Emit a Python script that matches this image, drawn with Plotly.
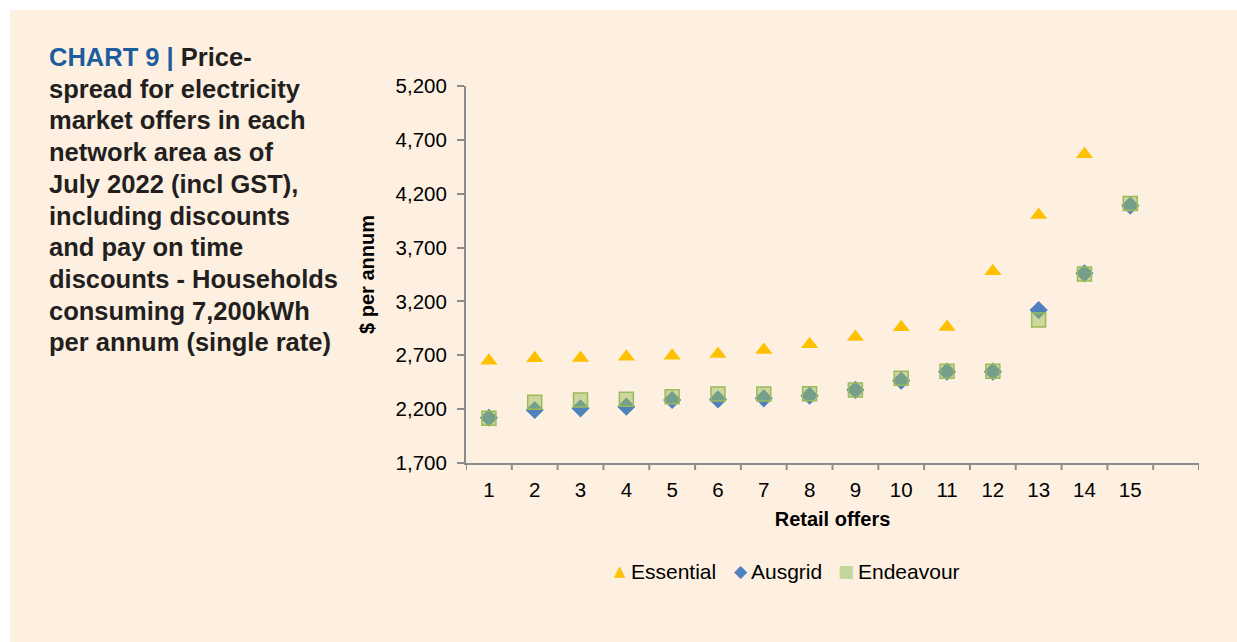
import plotly.graph_objects as go

# Retail offer ranks (16 category slots on the axis, 15 offers plotted)
offers = [str(i) for i in range(1, 16)]
axis_slots = [str(i) for i in range(1, 17)]

# Annual bill ($ per annum) for each network area
essential = [2650, 2672, 2675, 2687, 2696, 2712, 2749, 2802, 2870, 2960, 2963,
             3480, 4002, 4566, None]
ausgrid = [2120, 2192, 2208, 2223, 2285, 2290, 2300, 2325, 2378, 2464, 2548,
           2548, 3120, 3461, 4090]
endeavour = [2115, 2263, 2285, 2291, 2316, 2340, 2340, 2343, 2378, 2486, 2551,
             2551, 3028, 3455, 4110]

y_ticks = [1700, 2200, 2700, 3200, 3700, 4200, 4700, 5200]
y_tick_labels = ["1,700", "2,200", "2,700", "3,200", "3,700", "4,200", "4,700", "5,200"]

series_names = ["Essential", "Ausgrid", "Endeavour"]
series_colors = ["#FFC000", "#4F81BD", "#C3D69B"]
legend_glyphs = ["▲", "◆", "■"]

title_lines = [
    "<span style='color:#1F5C9E'>CHART 9 | </span>Price-",
    "spread for electricity",
    "market offers in each",
    "network area as of",
    "July 2022 (incl GST),",
    "including discounts",
    "and pay on time",
    "discounts - Households",
    "consuming 7,200kWh",
    "per annum (single rate)",
]

FONT = "Liberation Sans, Arial, sans-serif"
BG = "#FDF0E1"
AXIS = "#8C8C8C"

# Plot-area geometry in pixels (used to place the side text and legend)
L, R, T, B = 466, 1199, 86, 463
PW, PH = R - L, B - T


def px_x(x):
    return (x - L) / PW


def px_y(y):
    return (B - y) / PH


fig = go.Figure()
fig.add_trace(go.Scatter(
    x=offers, y=essential, mode="markers", name=series_names[0],
    marker=dict(symbol="triangle-up", size=15, color=series_colors[0],
                line=dict(width=0)),
))
fig.add_trace(go.Scatter(
    x=offers, y=ausgrid, mode="markers", name=series_names[1],
    marker=dict(symbol="diamond", size=14, color=series_colors[1],
                line=dict(width=0)),
))
fig.add_trace(go.Scatter(
    x=offers, y=endeavour, mode="markers", name=series_names[2],
    marker=dict(symbol="square", size=14, color="rgba(155,187,89,0.5)",
                line=dict(width=1.5, color="#9BBB59")),
))

# Beige panel behind the whole chart
fig.add_shape(type="rect", xref="paper", yref="paper",
              x0=px_x(10), x1=px_x(1245), y0=px_y(650), y1=px_y(10),
              fillcolor=BG, line=dict(width=0), layer="below")

for i, line in enumerate(title_lines):
    fig.add_annotation(
        xref="paper", yref="paper", x=px_x(47), y=px_y(57 + i * 31.7),
        xanchor="left", yanchor="middle", showarrow=False, align="left",
        text="<b>" + line + "</b>",
        font=dict(family=FONT, size=25.5, color="#231F20"),
    )

# Legend row: glyph key followed by series name
legend_glyph_x = [620, 741, 846]
legend_text_x = [629, 749, 856]
glyph_sizes = [15, 17, 17]
for name, color, glyph, gx, tx, gs in zip(series_names, series_colors, legend_glyphs,
                                          legend_glyph_x, legend_text_x, glyph_sizes):
    fig.add_annotation(
        xref="paper", yref="paper", x=px_x(gx), y=px_y(571),
        xanchor="center", yanchor="middle", showarrow=False,
        text=glyph, font=dict(family="DejaVu Sans", size=gs, color=color),
    )
    fig.add_annotation(
        xref="paper", yref="paper", x=px_x(tx), y=px_y(571),
        xanchor="left", yanchor="middle", showarrow=False,
        text=name, font=dict(family=FONT, size=21, color="#000000"),
    )

fig.update_layout(
    width=1237, height=642,
    margin=dict(l=L, r=1237 - R, t=T, b=642 - B),
    paper_bgcolor="white", plot_bgcolor=BG,
    font=dict(family=FONT, size=20.5, color="#000000"),
    showlegend=False,
    xaxis=dict(
        type="category", categoryorder="array", categoryarray=axis_slots,
        tickvals=offers, ticktext=offers, range=[-0.5, 15.5],
        showgrid=False, zeroline=False, showline=True, linecolor=AXIS,
        linewidth=2, ticks="", ticklabelstandoff=7,
        title=dict(text="<b>Retail offers</b>", font=dict(size=20), standoff=12),
    ),
    yaxis=dict(
        range=[1700, 5200], tickvals=y_ticks, ticktext=y_tick_labels,
        showgrid=False, zeroline=False, showline=True, linecolor=AXIS,
        linewidth=2, ticks="outside", ticklen=7, tickcolor=AXIS, tickwidth=2,
        ticklabelstandoff=6,
        title=dict(text="<b>$ per annum</b>", font=dict(size=20), standoff=16),
    ),
)

# Category boundary ticks on the x axis
for k in range(17):
    fig.add_shape(type="line", xref="x", yref="paper",
                  x0=k - 0.5, x1=k - 0.5, y0=0, y1=-7 / PH,
                  line=dict(color=AXIS, width=2))

fig.write_html("out.html")
